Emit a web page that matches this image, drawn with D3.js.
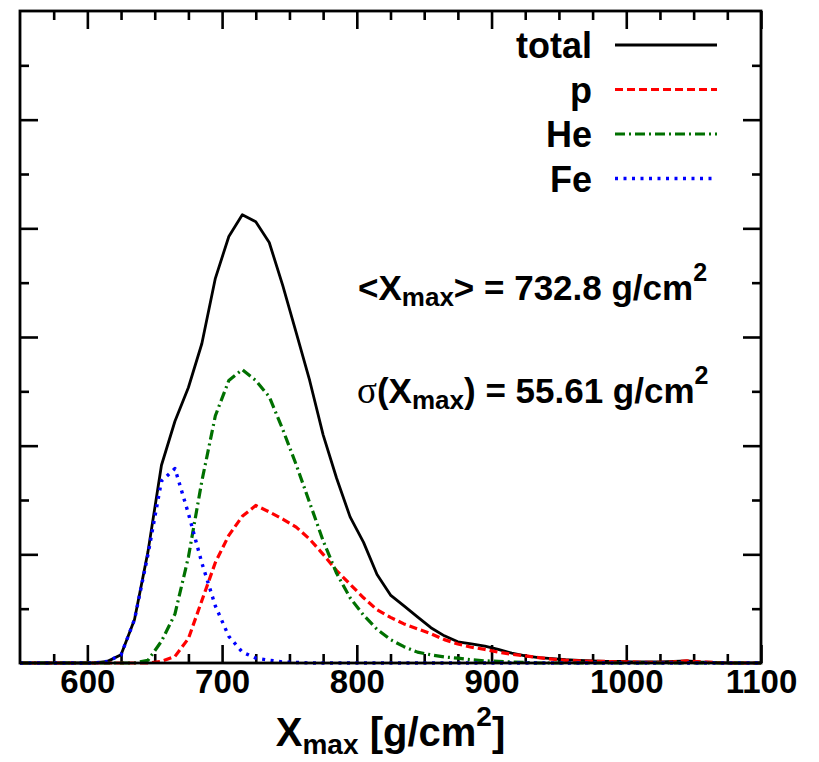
<!DOCTYPE html>
<html>
<head>
<meta charset="utf-8">
<script src="https://cdn.jsdelivr.net/npm/d3@7"></script>
<style>
  body { margin: 0; background: #fff; }
  text { font-family: "Liberation Sans", Arial, Helvetica, sans-serif; font-weight: bold; }
</style>
</head>
<body>
<div id="chart-area"></div>
<script>
// Xmax distribution, bin centres in g/cm^2
var xmaxBins = [555, 565, 575, 585, 595, 605, 615, 625, 635, 645,
                655, 665, 675, 685, 695, 705, 715, 725, 735, 745,
                755, 765, 775, 785, 795, 805, 815, 825, 835, 845,
                855, 865, 875, 885, 895, 905, 915, 925, 935, 945,
                955, 965, 975, 985, 995, 1005, 1015, 1025, 1035, 1045,
                1055, 1065, 1075, 1085, 1095];

var totalVals = [0, 0, 0, 0, 0, 0, 0.03, 0.15, 0.8, 2.05,
                 3.64, 4.45, 5.07, 5.88, 7.08, 7.85, 8.25, 8.12, 7.74, 6.95,
                 6.08, 5.2, 4.2, 3.4, 2.69, 2.22, 1.63, 1.25, 1.05, 0.85,
                 0.65, 0.5, 0.39, 0.35, 0.31, 0.25, 0.18, 0.13, 0.1, 0.08,
                 0.06, 0.05, 0.04, 0.03, 0.03, 0.02, 0.02, 0.02, 0.03, 0.04,
                 0.02, 0.01, 0, 0, 0];

var pVals = [0, 0, 0, 0, 0, 0, 0, 0, 0, 0,
             0.03, 0.12, 0.45, 1.15, 1.85, 2.35, 2.7, 2.9, 2.78, 2.65,
             2.5, 2.28, 2.0, 1.7, 1.45, 1.2, 0.98, 0.84, 0.72, 0.63,
             0.54, 0.43, 0.35, 0.29, 0.25, 0.2, 0.16, 0.13, 0.1, 0.07,
             0.05, 0.04, 0.03, 0.03, 0.02, 0.02, 0.01, 0.01, 0.02, 0.04,
             0.02, 0.01, 0, 0, 0];

var heVals = [0, 0, 0, 0, 0, 0, 0, 0, 0, 0.05,
              0.4, 0.9, 1.95, 3.35, 4.55, 5.2, 5.4, 5.2, 4.9, 4.3,
              3.65, 2.95, 2.25, 1.65, 1.2, 0.88, 0.62, 0.43, 0.3, 0.2,
              0.15, 0.11, 0.09, 0.06, 0.04, 0.03, 0.02, 0.01, 0, 0,
              0, 0, 0, 0, 0, 0, 0, 0, 0, 0,
              0, 0, 0, 0, 0];

var feVals = [0, 0, 0, 0, 0, 0, 0.03, 0.15, 0.8, 2.0,
              3.35, 3.58, 2.75, 1.84, 1.05, 0.49, 0.2, 0.09, 0.05, 0.02,
              0.01, 0, 0, 0, 0, 0, 0, 0, 0, 0,
              0, 0, 0, 0, 0, 0, 0, 0, 0, 0,
              0, 0, 0, 0, 0, 0, 0, 0, 0, 0,
              0, 0, 0, 0, 0];

var seriesNames = ["total", "p", "He", "Fe"];
var seriesColors = ["#000000", "#ff0000", "#007000", "#0000ff"];
var seriesDash = [null, "8,4", "10,4,2,4", "3,5.5"];
var seriesWidth = [2.8, 3.2, 3.2, 3.4];

var xMajorTicks = [600, 700, 800, 900, 1000, 1100];

var margin = { left: 20, right: 58, top: 11, bottom: 99 };
var width = 819 - margin.left - margin.right,
    height = 762 - margin.top - margin.bottom;

var svg = d3.select("#chart-area")
    .append("svg")
        .attr("width", 819)
        .attr("height", 762);

svg.append("rect")
    .attr("width", 819)
    .attr("height", 762)
    .attr("fill", "#fff");

var g = svg.append("g")
    .attr("transform", "translate(" + margin.left + ", " + margin.top + ")");

var x = d3.scaleLinear()
    .domain([550, 1100])
    .range([0, width]);

var y = d3.scaleLinear()
    .domain([0, 12])
    .range([height, 0]);

var minorX = d3.range(575, 1100, 25).filter(function(d){ return d % 100 !== 0; });
var majorY = [2, 4, 6, 8, 10];
var minorY = [1, 3, 5, 7, 9, 11];

function tickAxis(axis, values, size, transform, cls) {
    var a = g.append("g")
        .attr("class", cls)
        .attr("transform", transform)
        .call(axis.tickValues(values).tickSizeInner(-size).tickSizeOuter(0).tickFormat(""));
    a.select(".domain").remove();
    a.selectAll("line").attr("stroke", "#000").attr("stroke-width", 2.6);
    return a;
}

// inward ticks on all four sides
tickAxis(d3.axisBottom(x), minorX, 9, "translate(0," + height + ")", "x minor");
tickAxis(d3.axisTop(x), minorX, 9, "translate(0,0)", "x minor top");
tickAxis(d3.axisTop(x), xMajorTicks, 18, "translate(0,0)", "x major top");
tickAxis(d3.axisLeft(y), minorY, 9, "translate(0,0)", "y minor");
tickAxis(d3.axisLeft(y), majorY, 18, "translate(0,0)", "y major");
tickAxis(d3.axisRight(y), minorY, 9, "translate(" + width + ",0)", "y minor right");
tickAxis(d3.axisRight(y), majorY, 18, "translate(" + width + ",0)", "y major right");

// bottom axis with labels
var xAxisCall = d3.axisBottom(x)
    .tickValues(xMajorTicks)
    .tickSizeInner(-18)
    .tickSizeOuter(0)
    .tickPadding(7)
    .tickFormat(d3.format("d"));
var xAxis = g.append("g")
    .attr("class", "x axis")
    .attr("transform", "translate(0," + height + ")")
    .call(xAxisCall);
xAxis.select(".domain").remove();
xAxis.selectAll("line").attr("stroke", "#000").attr("stroke-width", 2.6);
xAxis.selectAll("text")
    .attr("fill", "#000")
    .attr("font-size", "33px")
    .attr("font-family", "'Liberation Sans', Arial, sans-serif")
    .attr("font-weight", "bold");

// curves
var seriesVals = [totalVals, pVals, heVals, feVals];
var line = d3.line()
    .x(function(d){ return x(d[0]); })
    .y(function(d){ return y(d[1]); });

seriesVals.forEach(function(vals, i){
    var pts = xmaxBins.map(function(b, j){ return [b, vals[j]]; });
    pts.unshift([550, 0]);
    pts.push([1100, 0]);
    g.append("path")
        .datum(pts)
        .attr("fill", "none")
        .attr("stroke", seriesColors[i])
        .attr("stroke-width", seriesWidth[i])
        .attr("stroke-dasharray", seriesDash[i])
        .attr("stroke-linejoin", "round")
        .attr("d", line);
});

// frame
g.append("rect")
    .attr("width", width)
    .attr("height", height)
    .attr("fill", "none")
    .attr("stroke", "#000")
    .attr("stroke-width", 2.8);

// legend
var legend = g.append("g")
    .attr("transform", "translate(" + (592 - margin.left) + ", " + (47 - margin.top) + ")");
seriesNames.forEach(function(name, i){
    var row = legend.append("g")
        .attr("transform", "translate(0," + (i * 44.5) + ")");
    row.append("text")
        .attr("x", 0)
        .attr("y", 11)
        .attr("text-anchor", "end")
        .attr("font-size", "36px")
        .text(name);
    row.append("line")
        .attr("x1", 23)
        .attr("x2", 125)
        .attr("y1", -2)
        .attr("y2", -2)
        .attr("stroke", seriesColors[i])
        .attr("stroke-width", seriesWidth[i])
        .attr("stroke-dasharray", seriesDash[i]);
});

// annotations
var ann1 = svg.append("text")
    .attr("x", 358)
    .attr("y", 300)
    .attr("font-size", "35px");
ann1.append("tspan").text("<X");
ann1.append("tspan").attr("font-size", "26px").attr("dy", 6).text("max");
ann1.append("tspan").attr("dy", -6).text("> = 732.8 g/cm");
ann1.append("tspan").attr("font-size", "25px").attr("dy", -19).text("2");

var ann2 = svg.append("text")
    .attr("x", 357)
    .attr("y", 403)
    .attr("font-size", "35px");
ann2.append("tspan")
    .attr("font-family", "'Liberation Serif', 'DejaVu Serif', serif")
    .attr("font-weight", "normal")
    .attr("font-size", "37px")
    .text("σ");
ann2.append("tspan").text("(X");
ann2.append("tspan").attr("font-size", "26px").attr("dy", 6).text("max");
ann2.append("tspan").attr("dy", -6).text(") = 55.61 g/cm");
ann2.append("tspan").attr("font-size", "25px").attr("dy", -19).text("2");

// X label
var xLabel = svg.append("text")
    .attr("x", margin.left + width / 2)
    .attr("y", 746)
    .attr("text-anchor", "middle")
    .attr("font-size", "40px");
xLabel.append("tspan").text("X");
xLabel.append("tspan").attr("font-size", "28px").attr("dy", 8).text("max");
xLabel.append("tspan").attr("dy", -8).text(" [g/cm");
xLabel.append("tspan").attr("font-size", "28px").attr("dy", -20).text("2");
xLabel.append("tspan").attr("dy", 20).text("]");
</script>
</body>
</html>
